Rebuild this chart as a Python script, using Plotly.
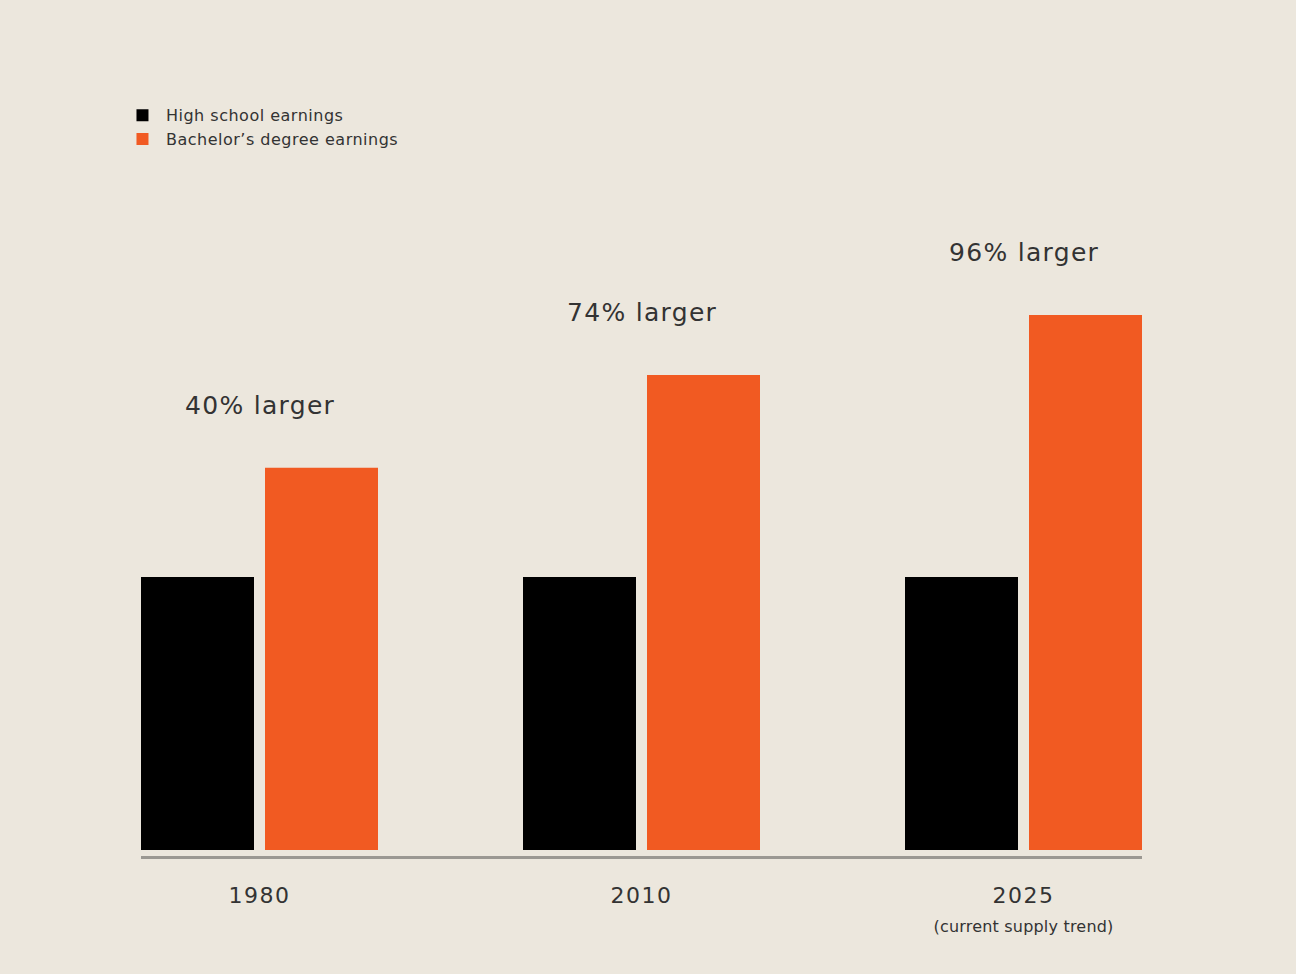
import plotly.graph_objects as go

years = ["1980", "2010", "2025"]
tick_sub = ["", "", "(current supply trend)"]
high_school = [100, 100, 100]
bachelor = [140, 174, 196]
gap_labels = ["40% larger", "74% larger", "96% larger"]

BG = "#ECE7DD"
ORANGE = "#F15A22"
BLACK = "#000000"
TEXT = "#333333"
FONT = "DejaVu Sans"


def spaced(s, ls):
    return f"<span style='letter-spacing:{ls}px'>{s}</span>"


tick_labels = []
for y, sub in zip(years, tick_sub):
    lab = spaced(y, 1.5)
    if sub:
        lab += "<br><span style='font-size:16px;letter-spacing:0.2px'>" + sub + "</span>"
    tick_labels.append(lab)

pos = list(range(len(years)))
px_per_unit = 382.0
bar_w = 113 / px_per_unit
half_group = 118.5 / px_per_unit
inner_gap = 11 / px_per_unit

fig = go.Figure()
fig.add_trace(go.Bar(
    x=pos, y=high_school, name=spaced("High school earnings", 0.5),
    marker=dict(color=BLACK, line=dict(width=0)),
    width=bar_w, offset=-half_group,
))
fig.add_trace(go.Bar(
    x=pos, y=bachelor, name=spaced("Bachelor\u2019s degree earnings", 0.5),
    marker=dict(color=ORANGE, line=dict(width=0)),
    width=bar_w, offset=-half_group + bar_w + inner_gap,
))

for i, (v, t) in enumerate(zip(bachelor, gap_labels)):
    fig.add_annotation(
        x=pos[i], y=v, text=spaced(t, 1.3), showarrow=False,
        yshift=62, yanchor="middle", xanchor="center",
        font=dict(family=FONT, size=25, color=TEXT),
    )

fig.update_layout(
    width=1296, height=974,
    paper_bgcolor=BG, plot_bgcolor=BG,
    margin=dict(l=141, r=154, t=200, b=118),
    font=dict(family=FONT, color=TEXT),
    showlegend=True,
    legend=dict(
        x=-0.022, y=1.155, xanchor="left", yanchor="top",
        bgcolor="rgba(0,0,0,0)",
        font=dict(family=FONT, size=16, color=TEXT),
        itemwidth=37, tracegroupgap=4,
    ),
    xaxis=dict(
        range=[-0.3102, 2.3102], tickvals=pos, ticktext=tick_labels,
        showgrid=False, zeroline=False,
        showline=True, linecolor="#9b9892", linewidth=3,
        ticks="outside", ticklen=18, tickcolor=BG,
        tickfont=dict(family=FONT, size=22, color=TEXT),
        fixedrange=True,
    ),
    yaxis=dict(
        range=[-2.2, 238.1], visible=False, showgrid=False, zeroline=False,
        fixedrange=True,
    ),
)

fig.write_html("out.html")
